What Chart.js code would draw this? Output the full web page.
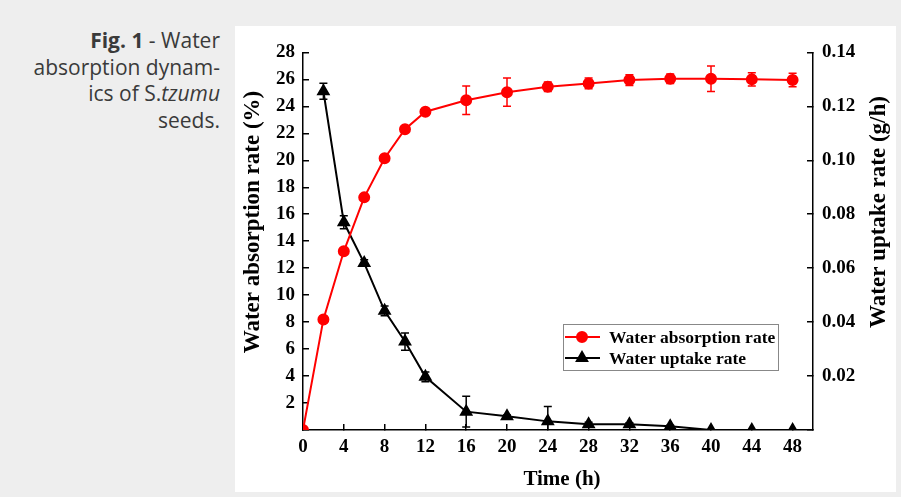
<!DOCTYPE html>
<html>
<head>
<meta charset="utf-8">
<script src="https://cdn.jsdelivr.net/npm/chart.js@4.4.1/dist/chart.umd.min.js"></script>
<style>
  html, body { margin: 0; padding: 0; }
  body { width: 901px; height: 497px; background: #eeeeee; position: relative; overflow: hidden; }
  .caption {
    position: absolute; left: 0; top: 27px; width: 220px;
    text-align: right; font-family: "Open Sans", Lato, sans-serif;
    font-size: 21px; line-height: 26.7px; color: #3a3a3a;
  }
  .panel { position: absolute; left: 235px; top: 26px; width: 661px; height: 466px; background: #fff; }
</style>
</head>
<body>
<div class="caption"><b>Fig. 1</b> - Water<br>absorption dynam-<br>ics of S.<i>tzumu</i><br>seeds.</div>
<div class="panel"><canvas id="chart"></canvas></div>
<script>
// données
const timeH = [0, 2, 4, 6, 8, 10, 12, 16, 20, 24, 28, 32, 36, 40, 44, 48];
const absorptionRate = [0, 8.2, 13.25, 17.25, 20.15, 22.3, 23.6, 24.45, 25.05, 25.45, 25.7, 25.95, 26.05, 26.05, 26.0, 25.95];
const absorptionErr = [0, 0, 0, 0, 0.15, 0.15, 0.15, 1.05, 1.05, 0.35, 0.4, 0.4, 0.35, 0.95, 0.5, 0.5];

const uptakeTime = [2, 4, 6, 8, 10, 12, 16, 20, 24, 28, 32, 36, 40, 44, 48];
const uptakeRate = [0.1256, 0.0770, 0.0619, 0.0442, 0.0328, 0.0197, 0.0068, 0.0051, 0.0032, 0.0021, 0.0021, 0.0014, 0, 0, 0];
const uptakeErr = [0.003, 0.0024, 0.0012, 0.0018, 0.0032, 0.0018, 0.0057, 0.0005, 0.0055, 0.0008, 0.0006, 0.0004, 0, 0, 0];

const timeTicks = [0, 4, 8, 12, 16, 20, 24, 28, 32, 36, 40, 44, 48];

const serif = "'Liberation Serif', 'Times New Roman', serif";

// barres d'erreur
const errorBars = {
  id: 'errorBars',
  beforeDatasetsDraw(chart) {
    const ctx = chart.ctx;
    const area = chart.chartArea;
    ctx.save();
    ctx.beginPath();
    ctx.rect(area.left, area.top - 20, area.right - area.left, area.bottom - area.top + 20);
    ctx.clip();
    chart.data.datasets.forEach((ds, i) => {
      const meta = chart.getDatasetMeta(i);
      const yScale = chart.scales[ds.yAxisID];
      ctx.strokeStyle = ds.borderColor;
      ctx.lineWidth = 1.5;
      ds.errors.forEach((e, j) => {
        if (!e) return;
        const x = meta.data[j].x;
        const v = ds.data[j].y;
        const yTop = yScale.getPixelForValue(v + e);
        const yBot = yScale.getPixelForValue(v - e);
        ctx.beginPath();
        ctx.moveTo(x, yTop); ctx.lineTo(x, yBot);
        ctx.moveTo(x - 4, yTop); ctx.lineTo(x + 4, yTop);
        ctx.moveTo(x - 4, yBot); ctx.lineTo(x + 4, yBot);
        ctx.stroke();
      });
    });
    ctx.restore();
  }
};

// titres des axes + légende
const decorations = {
  id: 'decorations',
  afterDraw(chart) {
    const ctx = chart.ctx;
    const area = chart.chartArea;
    ctx.save();
    ctx.fillStyle = '#000';
    ctx.textAlign = 'center';
    ctx.textBaseline = 'middle';
    ctx.font = 'bold 23px ' + serif;

    ctx.save();
    ctx.translate(18, 196);
    ctx.rotate(-Math.PI / 2);
    ctx.fillText('Water absorption rate (%)', 0, 0);
    ctx.restore();

    ctx.save();
    ctx.translate(644, 186);
    ctx.rotate(-Math.PI / 2);
    ctx.fillText('Water uptake rate (g/h)', 0, 0);
    ctx.restore();

    ctx.font = 'bold 21px ' + serif;
    ctx.fillText('Time (h)', (area.left + area.right) / 2 + 4, 454);

    // légende
    const bx = 328, by = 298, bw = 215, bh = 46;
    ctx.strokeStyle = '#888';
    ctx.lineWidth = 1;
    ctx.strokeRect(bx + 0.5, by + 0.5, bw, bh);
    ctx.font = 'bold 17.5px ' + serif;
    ctx.textAlign = 'left';
    chart.data.datasets.forEach((ds, i) => {
      const y = by + 13 + i * 21;
      ctx.strokeStyle = ds.borderColor;
      ctx.fillStyle = ds.borderColor;
      ctx.lineWidth = ds.borderWidth;
      ctx.beginPath();
      ctx.moveTo(bx + 2, y); ctx.lineTo(bx + 37, y);
      ctx.stroke();
      Chart.helpers.drawPoint(ctx, {
        pointStyle: ds.pointStyle, radius: ds.pointRadius, rotation: 0, borderWidth: 1
      }, bx + 19, y);
      ctx.fillStyle = '#000';
      ctx.fillText(ds.label, bx + 46, y + 1);
    });
    ctx.restore();
  }
};

const tickFont = { family: serif, size: 19, weight: 'bold' };

new Chart(document.getElementById('chart'), {
  type: 'line',
  data: {
    datasets: [
      {
        label: 'Water absorption rate',
        data: timeH.map((t, i) => ({ x: t, y: absorptionRate[i] })),
        errors: absorptionErr,
        yAxisID: 'y',
        borderColor: '#ff0000',
        backgroundColor: '#ff0000',
        borderWidth: 2,
        pointStyle: 'circle',
        pointRadius: 5,
        tension: 0
      },
      {
        label: 'Water uptake rate',
        data: uptakeTime.map((t, i) => ({ x: t, y: uptakeRate[i] })),
        errors: uptakeErr,
        yAxisID: 'y1',
        borderColor: '#000000',
        backgroundColor: '#000000',
        borderWidth: 2,
        pointStyle: 'triangle',
        pointRadius: 6,
        tension: 0
      }
    ]
  },
  options: {
    responsive: true,
    maintainAspectRatio: false,
    animation: false,
    layout: { padding: { top: 13, left: 0, right: 0, bottom: 0 }, autoPadding: false },
    plugins: { legend: { display: false }, tooltip: { enabled: false } },
    scales: {
      x: {
        type: 'linear',
        min: 0,
        max: 50,
        afterFit: s => { s.height = 62; },
        afterBuildTicks: s => { s.ticks = timeTicks.map(v => ({ value: v })); },
        ticks: { font: tickFont, color: '#000', padding: 12, maxRotation: 0, autoSkip: false },
        grid: { drawOnChartArea: false, tickLength: -6, color: '#000', lineWidth: 1.5 },
        border: { color: '#000', width: 1.5 }
      },
      y: {
        position: 'left',
        min: 0,
        max: 28,
        afterFit: s => { s.width = 68; },
        ticks: { stepSize: 2, font: tickFont, color: '#000', padding: 14, callback: v => v === 0 ? '' : v },
        grid: { drawOnChartArea: false, tickLength: -6, color: '#000', lineWidth: 1.5 },
        border: { color: '#000', width: 1.5 }
      },
      y1: {
        position: 'right',
        min: 0,
        max: 0.14,
        afterFit: s => { s.width = 83; },
        ticks: { stepSize: 0.02, font: tickFont, color: '#000', padding: 15, callback: v => v === 0 ? '' : v.toFixed(2) },
        grid: { drawOnChartArea: false, tickLength: -6, color: '#000', lineWidth: 1.5 },
        border: { color: '#000', width: 1.5 }
      }
    }
  },
  plugins: [errorBars, decorations]
});
</script>
</body>
</html>
